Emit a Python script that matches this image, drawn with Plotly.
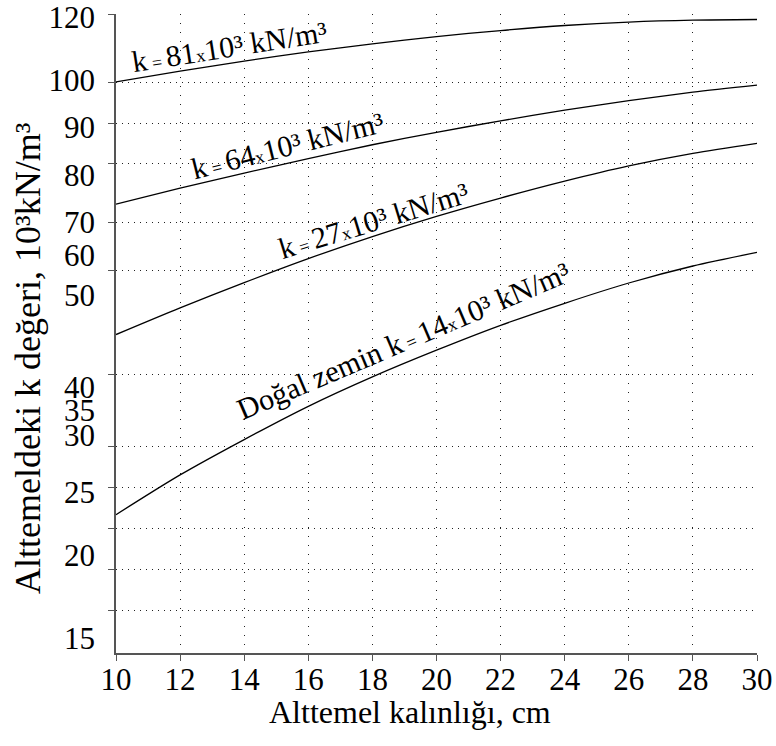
import numpy as np
import plotly.graph_objects as go

# Subbase thickness (cm) and resulting k value on top of the subbase (10^3 kN/m^3)
thickness_cm = [10, 12, 14, 16, 18, 20, 22, 24, 26, 28, 30]
k_81 = [99.6, 102.8, 106.0, 108.9, 111.5, 113.8, 115.7, 117.3, 118.4, 119.0, 119.2]
k_64 = [73.8, 77.2, 80.4, 83.4, 86.3, 88.9, 91.3, 93.6, 95.6, 97.4, 98.9]
k_27 = [45.7, 48.6, 53.1, 59.1, 65.6, 71.2, 75.1, 78.7, 81.9, 84.5, 86.6]
k_14 = [23.2, 26.5, 29.6, 35.8, 41.1, 44.0, 46.7, 49.1, 53.0, 57.25, 60.8]

y_labels = [15, 20, 25, 30, 35, 40, 50, 60, 70, 80, 90, 100, 120]
x_ticks = list(range(10, 31, 2))

X_TITLE = "Alttemel kalınlığı, cm"
Y_TITLE = "Alttemeldeki k değeri, 10³kN/m³"

# Non-uniform k scale: axis position of every labelled k value
SCALE_K = y_labels
SCALE_POS = [15, 98, 161, 218, 243, 266, 358, 398, 431, 478, 526, 573, 636]
AXIS_TOP = 639
# Division marks along the k axis (axis positions)
GRID_POS = [43, 84, 125, 166, 207, 279, 383, 431, 490, 530, 571, 639]


def kpos(values):
    return np.interp(values, SCALE_K, SCALE_POS)


SERIF = "Liberation Serif, Times New Roman, serif"
SMALL = "<span style='font-size:18px'>"

curves = [
    (k_81, "k" + SMALL + " = </span>81" + SMALL + "x</span>10³ kN/m³", 13.55, 110.5, -9),
    (k_64, "k" + SMALL + " = </span>64" + SMALL + "x</span>10³ kN/m³", 15.34, 86.2, -14),
    (k_27, "k" + SMALL + " = </span>27" + SMALL + "x</span>10³ kN/m³", 18.03, 70.4, -17),
    (k_14, "Doğal zemin k" + SMALL + " = </span>14" + SMALL + "x</span>10³ kN/m³", 18.97, 45.1, -23),
]

fig = go.Figure()
annotations = []
for values, label, lx, lk, angle in curves:
    fig.add_trace(go.Scatter(
        x=thickness_cm, y=kpos(values), mode="lines",
        line=dict(color="black", width=1.3, shape="spline", smoothing=0.8),
        showlegend=False, hoverinfo="skip",
    ))
    annotations.append(dict(
        x=lx, y=float(kpos(lk)), xref="x", yref="y", text=label,
        textangle=angle, showarrow=False,
        font=dict(family=SERIF, size=30, color="black"),
    ))

# axis titles
annotations.append(dict(
    text=X_TITLE, xref="paper", yref="paper", x=0.4587, y=-0.0923,
    xanchor="center", yanchor="middle", showarrow=False,
    font=dict(family=SERIF, size=32, color="black"),
))
annotations.append(dict(
    text=Y_TITLE, xref="paper", yref="paper", x=-0.1373, y=0.4617,
    xanchor="center", yanchor="middle", textangle=-90, showarrow=False,
    font=dict(family=SERIF, size=36, color="black"),
))

# carrier for the labelled k axis
fig.add_trace(go.Scatter(
    x=[thickness_cm[0]], y=[float(kpos(y_labels[0]))], yaxis="y2", mode="markers",
    marker=dict(opacity=0), showlegend=False, hoverinfo="skip",
))

fig.update_layout(
    width=776, height=746,
    margin=dict(l=116, r=19, t=14, b=93),
    paper_bgcolor="white", plot_bgcolor="white",
    font=dict(family=SERIF, color="black"),
    annotations=annotations,
    xaxis=dict(
        range=[10, 30], tickvals=x_ticks, ticktext=[str(v) for v in x_ticks],
        automargin=False, ticklabeloverflow="allow",
        ticks="outside", ticklen=6, tickwidth=1.2, tickcolor="#555",
        showline=True, linecolor="#555", linewidth=1.6,
        showgrid=True, gridcolor="#222", gridwidth=1, griddash="1px,8px",
        zeroline=False, ticklabelstandoff=-8,
        tickfont=dict(family=SERIF, size=31, color="black"),
    ),
    yaxis=dict(
        range=[0, AXIS_TOP], tickvals=GRID_POS, showticklabels=False,
        automargin=False,
        ticks="outside", ticklen=6, tickwidth=1.2, tickcolor="#555",
        showline=True, linecolor="#555", linewidth=1.6,
        showgrid=True, gridcolor="#222", gridwidth=1, griddash="1px,5px",
        zeroline=False,
    ),
    yaxis2=dict(
        overlaying="y", side="left", range=[0, AXIS_TOP],
        automargin=False, ticklabeloverflow="allow",
        tickvals=[float(v) for v in kpos(y_labels)], ticktext=[str(v) for v in y_labels],
        ticks="", showgrid=False, showline=False, zeroline=False,
        ticklabelstandoff=20,
        tickfont=dict(family=SERIF, size=31, color="black"),
    ),
)

fig.write_html("out.html")
